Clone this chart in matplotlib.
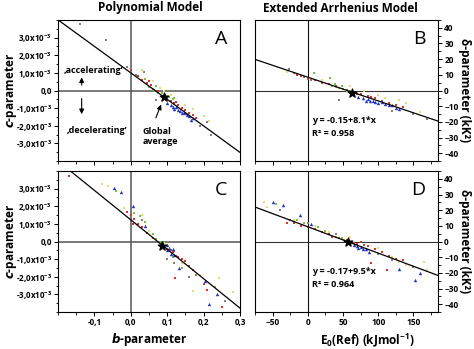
import matplotlib
matplotlib.use("Agg")
import matplotlib.pyplot as plt
from matplotlib.ticker import FixedLocator, MultipleLocator, FuncFormatter

plt.rcParams['font.family'] = ['Open Sans', 'DejaVu Sans']
plt.rcParams['mathtext.fontset'] = 'dejavusans'

# polynomial model: (b, c in units of 1e-3)
a_grey = [(-0.14, 3.77), (-0.069, 2.86), (-0.011, 1.36), (0.036, 1.05), (0.015, 0.9),
          (0.07, -0.55), (0.19, -2.0), (0.22, -2.5), (0.21, -1.8)]
a_red = [(0.0, 1.15), (0.02, 0.85), (0.03, 0.6), (0.045, 0.45), (0.055, 0.3), (0.065, 0.05),
         (0.075, -0.05), (0.1, -0.45), (0.11, -0.6), (0.12, -0.7), (0.13, -0.85), (0.14, -1.0),
         (0.15, -1.1), (0.16, -1.3), (0.17, -1.4), (0.18, -1.55), (0.05, 0.55), (0.125, -0.65)]
a_green = [(0.04, 0.65), (0.05, 0.2), (0.06, 0.1), (0.07, 0.25), (0.075, -0.15), (0.085, -0.15),
           (0.095, -0.25), (0.105, -0.35), (0.115, -0.5), (0.12, -0.45), (0.065, -0.05)]
a_yellow = [(0.03, 1.15), (0.06, 0.55), (0.08, 0.15), (0.11, -0.25), (0.15, -0.85), (0.17, -1.05),
            (0.2, -1.45), (0.215, -1.75), (0.09, 0.0)]
a_blue = [(0.1, -0.7), (0.11, -0.85), (0.115, -0.95), (0.12, -1.05), (0.125, -0.95), (0.13, -1.1),
          (0.135, -1.15), (0.14, -1.25), (0.145, -1.2), (0.15, -1.3), (0.155, -1.4), (0.16, -1.45),
          (0.17, -1.55), (0.165, -1.65)]
a_star = (0.09, -0.35)
a_fit = (1.0, -15.04)   # intercept, slope (c in 1e-3)

c_red = [(-0.171, 3.73), (-0.01, 1.7), (0.0, 1.5), (0.01, 1.3), (0.02, 1.0), (0.03, 0.8),
         (0.045, 0.5), (0.06, 0.2), (0.1, -0.4), (0.11, -0.5), (0.115, -0.6), (0.12, -0.55),
         (0.125, -0.8), (0.13, -0.9), (0.14, -1.0), (0.15, -1.1), (0.16, -1.4), (0.17, -1.6),
         (0.122, -2.07), (0.21, -2.78), (0.25, -3.7), (0.2, -2.4), (0.005, 1.0)]
c_green = [(-0.041, 2.88), (0.01, 1.6), (0.025, 1.45), (0.04, 1.1), (0.07, 0.15), (0.08, 0.0),
           (0.06, 0.45), (0.115, -0.9), (0.14, -1.5), (0.23, -2.6)]
c_yellow = [(-0.064, 3.16), (-0.08, 3.25), (-0.02, 1.9), (0.03, 1.5), (0.05, 0.6), (0.09, -0.1),
            (0.17, -2.8), (0.243, -2.07), (0.28, -2.86), (0.19, -1.9), (0.14, -1.2)]
c_blue = [(-0.046, 3.05), (-0.027, 2.79), (0.006, 2.0), (0.04, 0.9), (0.1, -0.2), (0.1, -0.5),
          (0.105, -0.35), (0.11, -0.7), (0.115, -0.45), (0.12, -0.75), (0.133, -1.5),
          (0.204, -2.26), (0.215, -3.54), (0.236, -3.0), (0.085, 0.0)]
c_grey = [(0.12, -1.2), (0.16, -2.0), (0.18, -1.9), (0.26, -3.4), (0.03, 1.2), (0.1, -1.0)]
c_star = (0.085, -0.23)
c_fit = (1.23, -16.7)

# extended Arrhenius model: (E0(Ref), delta)
b_grey = [(-26, 14), (-20, 11), (-5, 8.5), (5, 6.5), (45, -6), (150, -15), (170, -18), (120, -13)]
b_red = [(-15, 10), (-10, 9.5), (0, 7.5), (10, 6.5), (20, 5), (30, 4), (40, 3), (55, 0.5),
         (65, -1.5), (75, -2.5), (85, -3.5), (95, -5), (105, -6.5), (115, -8), (125, -9),
         (135, -10.5), (70, -2), (90, -4)]
b_green = [(9, 11), (32, 8), (35, 3), (40, 2), (45, 1.5), (50, 1), (55, 0), (60, -0.5), (48, 3), (38, 4)]
b_yellow = [(-30, 12), (20, 7), (60, 3), (80, 0), (100, -3), (130, -6), (140, -8), (160, -14), (110, -5)]
b_blue = [(72, -4), (78, -5), (82, -6.5), (88, -7), (92, -6.5), (96, -7.5), (100, -8), (105, -7.5),
          (110, -8.5), (115, -9), (120, -9.5), (125, -11), (130, -12), (85, -5.5)]
b_star = (63, -1.3)
b_fit = (8.5, -0.1515)
b_eq = ["y = -0.15+8.1*x", "R² = 0.958"]

d_red = [(-25, 14), (-20, 12), (-10, 10), (0, 9), (10, 8), (20, 6), (30, 5), (45, 2), (55, 1),
         (60, 0), (65, -1), (70, -1.5), (75, 0), (80, -2), (85, -3), (95, -5), (105, -7),
         (115, -9), (125, -11), (135, -12), (90, -14), (112, -18), (-30, 12), (35, 3)]
d_green = [(-45, 24), (-5, 12), (15, 9), (40, 3), (48, 2), (52, 1), (25, 7), (-15, 14)]
d_yellow = [(-62, 25), (-58, 22), (-20, 14), (10, 10), (30, 6), (60, 3), (100, -4), (120, -10),
            (130, -13), (165, -13), (170, -18), (140, -15)]
d_blue = [(-50, 25), (-35, 23.5), (-11, 17), (5, 11), (65, -2), (70, -3), (72, -4), (75, -3.5),
          (78, -5), (82, -4.5), (87, -7), (130, -17.5), (152, -24.7), (160, -20)]
d_grey = [(-40, 20), (0, 12), (40, 5), (100, -8), (150, -16), (120, -12)]
d_star = (57, 0)
d_fit = (9.4, -0.168)
d_eq = ["y = -0.17+9.5*x", "R² = 0.964"]

c_ticks = [-3, -2, -1, 0, 1, 2, 3]
b_ticks = [-0.1, 0.0, 0.1, 0.2, 0.3]
e_ticks = [-50, 0, 50, 100, 150]
d_ticks = [-40, -30, -20, -10, 0, 10, 20, 30, 40]

colors = {'red': '#d8352a', 'green': '#7cc242', 'yellow': '#e4dc7a', 'blue': '#2233c0', 'grey': '#8c7a7a'}

fig = plt.figure(figsize=(4.74, 3.49), dpi=100)
W, H = 474, 349


def add_ax(l, t, r, b):
    return fig.add_axes([l / W, 1 - b / H, (r - l) / W, (b - t) / H])


def fig_text(x, y, s, **kw):
    return fig.text(x / W, 1 - y / H, s, ha='center', va='center', fontsize=8.5, fontweight='bold', **kw)


axA = add_ax(58, 20, 240, 161)
axC = add_ax(58, 171, 240, 312)
axB = add_ax(255, 20, 438, 161)
axD = add_ax(255, 171, 438, 312)


def scatter_groups(ax, groups, yscale=1.0):
    for name, pts in groups:
        xs = [p[0] for p in pts]
        ys = [p[1] * yscale for p in pts]
        if name == 'blue':
            ax.scatter(xs, ys, s=6, marker='^', c=colors[name], linewidths=0, zorder=3)
        else:
            ax.scatter(xs, ys, s=2.5, marker='s', c=colors[name], linewidths=0, zorder=3)


def c_fmt(v, pos):
    k = round(v * 1e3)
    if k == 0:
        return '0,0'
    return '%d,0x10$^{\\mathregular{-3}}$' % k


def style_poly(ax, groups, star, fit, xlabels):
    ax.set_xlim(-0.2, 0.3)
    ax.set_ylim(-4e-3, 4e-3)
    ax.axhline(0, color='#555555', lw=1.1, zorder=1)
    ax.axvline(0, color='#555555', lw=1.1, zorder=1)
    x0, x1 = ax.get_xlim()
    ax.plot([x0, x1], [(fit[0] + fit[1] * x0) * 1e-3, (fit[0] + fit[1] * x1) * 1e-3],
            color='black', lw=0.9, zorder=4)
    scatter_groups(ax, groups, 1e-3)
    ax.scatter([star[0]], [star[1] * 1e-3], marker='*', s=40, c='black', zorder=5)
    ax.yaxis.set_major_locator(FixedLocator([t * 1e-3 for t in c_ticks]))
    ax.yaxis.set_minor_locator(MultipleLocator(0.5e-3))
    ax.yaxis.set_major_formatter(FuncFormatter(c_fmt))
    ax.xaxis.set_major_locator(FixedLocator(b_ticks))
    ax.xaxis.set_minor_locator(MultipleLocator(0.05))
    ax.xaxis.set_major_formatter(FuncFormatter(lambda v, p: ('%.1f' % v).replace('.', ',')))
    ax.tick_params(which='major', length=3, width=0.7, labelsize=5.8, pad=1.5)
    ax.tick_params(which='minor', length=1.8, width=0.6)
    ax.tick_params(axis='x', labelbottom=xlabels)
    for lab in ax.get_xticklabels() + ax.get_yticklabels():
        lab.set_fontweight('bold')


def style_arr(ax, groups, star, fit, eq, xlabels):
    ax.set_xlim(-75, 185)
    ax.set_ylim(-45, 45)
    ax.axhline(0, color='#333333', lw=0.8, zorder=1)
    ax.axvline(0, color='#111111', lw=0.8, zorder=1)
    x0, x1 = ax.get_xlim()
    ax.plot([x0, x1], [fit[0] + fit[1] * x0, fit[0] + fit[1] * x1], color='black', lw=0.9, zorder=4)
    scatter_groups(ax, groups)
    ax.scatter([star[0]], [star[1]], marker='*', s=40, c='black', zorder=5)
    ax.yaxis.tick_right()
    ax.yaxis.set_major_locator(FixedLocator(d_ticks))
    ax.yaxis.set_minor_locator(MultipleLocator(5))
    ax.xaxis.set_major_locator(FixedLocator(e_ticks))
    ax.xaxis.set_minor_locator(MultipleLocator(25))
    ax.tick_params(which='major', length=3, width=0.7, labelsize=6, pad=1.5)
    ax.tick_params(which='minor', length=1.8, width=0.6)
    ax.tick_params(axis='x', labelbottom=xlabels)
    for lab in ax.get_xticklabels() + ax.get_yticklabels():
        lab.set_fontweight('bold')
    ax.text(0.31, 0.27, eq[0], transform=ax.transAxes, fontsize=6.5, fontweight='bold')
    ax.text(0.31, 0.18, eq[1], transform=ax.transAxes, fontsize=6.5, fontweight='bold')


style_poly(axA, [('grey', a_grey), ('yellow', a_yellow), ('red', a_red), ('green', a_green), ('blue', a_blue)],
           a_star, a_fit, False)
style_poly(axC, [('grey', c_grey), ('yellow', c_yellow), ('red', c_red), ('green', c_green), ('blue', c_blue)],
           c_star, c_fit, True)
style_arr(axB, [('grey', b_grey), ('yellow', b_yellow), ('red', b_red), ('green', b_green), ('blue', b_blue)],
          b_star, b_fit, b_eq, False)
style_arr(axD, [('grey', d_grey), ('yellow', d_yellow), ('red', d_red), ('green', d_green), ('blue', d_blue)],
          d_star, d_fit, d_eq, True)

# axis titles placed in figure pixels
for yc in (90, 241):
    fig_text(11, yc, r'$\mathbfit{c}$-parameter', rotation=90)
    fig_text(464, yc, 'δ-parameter (kK²)', rotation=-90)
fig_text(149, 340, r'$\mathbfit{b}$-parameter')
fig_text(367, 340, 'E$_{\\mathregular{0}}$(Ref) (kJmol$^{\\mathregular{-1}}$)')
fig_text(150, 8, 'Polynomial Model')
fig_text(340, 8, 'Extended Arrhenius Model')

for ax, letter in [(axA, 'A'), (axB, 'B'), (axC, 'C'), (axD, 'D')]:
    ax.text(0.93, 0.93, letter, transform=ax.transAxes, ha='right', va='top', fontsize=14)

# annotations in the upper-left panel
axA.text(-0.185, 1.15e-3, '‚accelerating’', fontsize=6.5, fontweight='bold', va='center')
axA.text(-0.175, -2.25e-3, '‚decelerating’', fontsize=6.5, fontweight='bold', va='center')
axA.annotate('', xy=(-0.135, 0.9e-3), xytext=(-0.135, 0.15e-3),
             arrowprops=dict(arrowstyle='-|>', color='black', lw=0.8, mutation_scale=7))
axA.annotate('', xy=(-0.135, -1.5e-3), xytext=(-0.135, -0.3e-3),
             arrowprops=dict(arrowstyle='-|>', color='black', lw=0.8, mutation_scale=7))
axA.text(0.032, -2.6e-3, 'Global\naverage', fontsize=6.5, fontweight='bold', va='center', linespacing=1.2)
axA.annotate('', xy=(a_star[0] - 0.004, a_star[1] * 1e-3 - 0.3e-3), xytext=(0.066, -1.7e-3),
             arrowprops=dict(arrowstyle='-|>', color='black', lw=0.8, mutation_scale=7))

fig.savefig('out.png', dpi=100)
